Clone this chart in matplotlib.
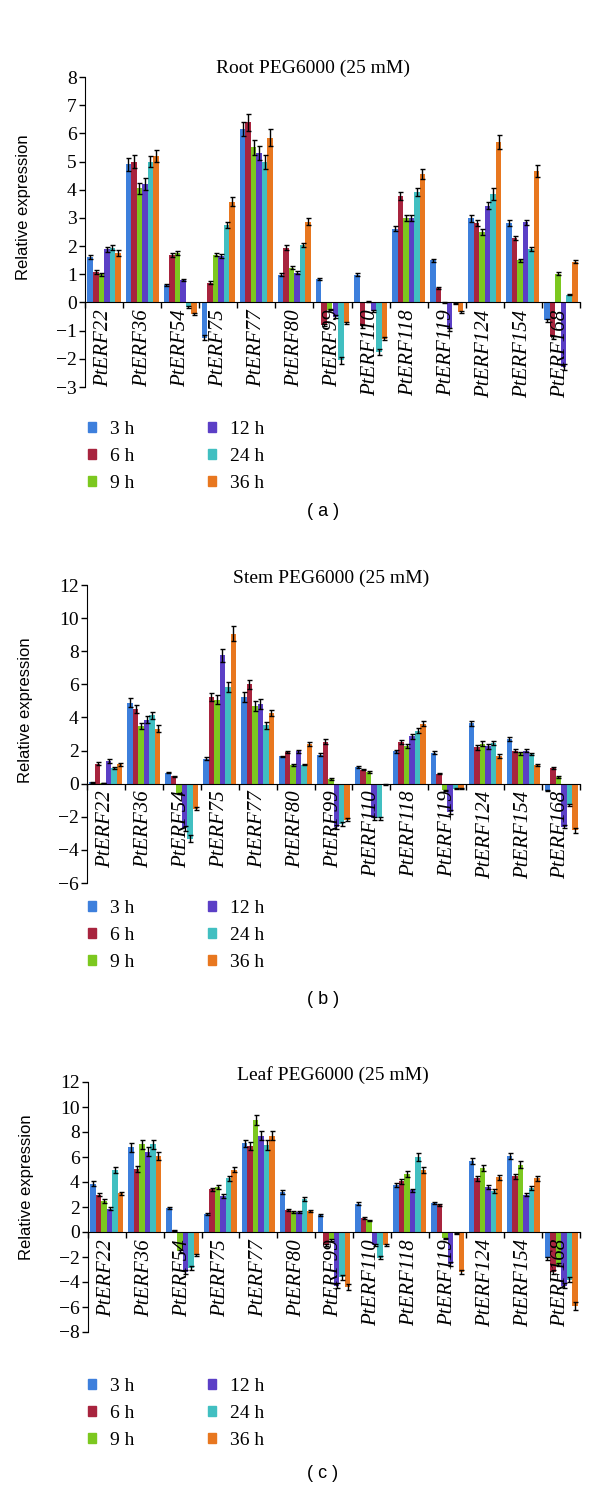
import numpy as np
import matplotlib.pyplot as plt
from matplotlib.patches import Patch

genes = ["PtERF22", "PtERF36", "PtERF54", "PtERF75", "PtERF77", "PtERF80", "PtERF99",
         "PtERF110", "PtERF118", "PtERF119", "PtERF124", "PtERF154", "PtERF168"]
times = ["3 h", "6 h", "9 h", "12 h", "24 h", "36 h"]
colors = ["#3d7fdc", "#a8243e", "#7cc81f", "#5b3fc6", "#41bfc1", "#e8771f"]

# rows = genes, columns = time points
root_vals = np.array([
    [1.62, 1.08, 1.00, 1.88, 1.95, 1.75],
    [4.90, 5.00, 4.05, 4.20, 5.00, 5.20],
    [0.62, 1.68, 1.75, 0.80, -0.15, -0.40],
    [-1.25, 0.70, 1.70, 1.65, 2.75, 3.58],
    [6.15, 6.40, 5.50, 5.30, 5.00, 5.85],
    [0.99, 1.95, 1.24, 1.05, 2.03, 2.86],
    [0.82, -0.80, -0.25, -0.50, -2.05, -0.72],
    [0.99, -0.85, 0.02, -0.30, -1.75, -1.28],
    [2.62, 3.78, 3.00, 3.00, 3.92, 4.56],
    [1.50, 0.52, 0.01, -0.95, -0.03, -0.33],
    [2.98, 2.83, 2.50, 3.43, 3.85, 5.70],
    [2.81, 2.29, 1.49, 2.84, 1.90, 4.66],
    [-0.64, -1.23, 1.02, -2.30, 0.28, 1.45],
])
root_err = np.array([
    [0.08, 0.06, 0.05, 0.10, 0.10, 0.10],
    [0.22, 0.22, 0.20, 0.20, 0.20, 0.22],
    [0.03, 0.06, 0.07, 0.05, 0.03, 0.03],
    [0.08, 0.05, 0.06, 0.06, 0.12, 0.15],
    [0.25, 0.30, 0.25, 0.25, 0.25, 0.30],
    [0.05, 0.08, 0.05, 0.05, 0.07, 0.12],
    [0.04, 0.04, 0.03, 0.05, 0.12, 0.04],
    [0.05, 0.05, 0.02, 0.03, 0.10, 0.05],
    [0.10, 0.15, 0.12, 0.12, 0.15, 0.18],
    [0.05, 0.03, 0.02, 0.05, 0.02, 0.04],
    [0.12, 0.10, 0.10, 0.12, 0.20, 0.25],
    [0.10, 0.08, 0.06, 0.10, 0.08, 0.20],
    [0.04, 0.05, 0.05, 0.10, 0.03, 0.06],
])

stem_vals = np.array([
    [0.08, 1.20, 0.05, 1.37, 0.95, 1.17],
    [4.90, 4.50, 3.49, 3.87, 4.13, 3.33],
    [0.67, 0.44, -0.60, -2.70, -3.33, -1.50],
    [1.51, 5.24, 5.08, 7.76, 5.85, 9.07],
    [5.24, 5.99, 4.70, 4.84, 3.53, 4.27],
    [1.65, 1.92, 1.11, 1.96, 1.15, 2.38],
    [1.75, 2.52, 0.28, -2.62, -2.42, -2.18],
    [1.00, 0.85, 0.69, -2.10, -2.10, -0.05],
    [1.96, 2.52, 2.26, 2.86, 3.19, 3.63],
    [1.88, 0.60, -0.40, -1.71, -0.30, -0.30],
    [3.66, 2.19, 2.41, 2.25, 2.45, 1.68],
    [2.70, 2.00, 1.83, 2.00, 1.79, 1.11],
    [-0.42, 0.95, 0.42, -2.60, -1.30, -2.80],
])
stem_err = np.array([
    [0.03, 0.10, 0.02, 0.10, 0.05, 0.10],
    [0.25, 0.25, 0.20, 0.20, 0.20, 0.20],
    [0.05, 0.04, 0.05, 0.15, 0.20, 0.08],
    [0.10, 0.25, 0.25, 0.40, 0.30, 0.45],
    [0.30, 0.30, 0.30, 0.30, 0.20, 0.20],
    [0.05, 0.08, 0.05, 0.08, 0.05, 0.12],
    [0.10, 0.15, 0.05, 0.10, 0.12, 0.10],
    [0.05, 0.05, 0.05, 0.10, 0.10, 0.03],
    [0.08, 0.12, 0.12, 0.15, 0.15, 0.15],
    [0.08, 0.04, 0.04, 0.10, 0.05, 0.05],
    [0.15, 0.15, 0.15, 0.15, 0.12, 0.10],
    [0.10, 0.08, 0.08, 0.10, 0.08, 0.05],
    [0.05, 0.05, 0.05, 0.10, 0.05, 0.15],
])

leaf_vals = np.array([
    [3.87, 3.00, 2.47, 1.88, 4.97, 3.09],
    [6.77, 5.02, 7.03, 6.44, 7.03, 6.09],
    [1.93, 0.13, -1.55, -3.17, -2.90, -1.83],
    [1.48, 3.41, 3.62, 2.87, 4.32, 4.97],
    [7.09, 6.90, 8.99, 7.70, 6.98, 7.70],
    [3.19, 1.74, 1.61, 1.58, 2.66, 1.72],
    [1.40, -1.00, -0.60, -4.30, -3.60, -4.40],
    [2.28, 1.13, 0.94, -1.00, -2.04, -1.02],
    [3.76, 4.08, 4.67, 3.33, 6.01, 4.94],
    [2.34, 2.20, -0.50, -2.58, -0.10, -3.17],
    [5.70, 4.30, 5.10, 3.61, 3.29, 4.39],
    [6.10, 4.45, 5.40, 3.00, 3.50, 4.30],
    [-2.10, -3.20, -2.60, -4.30, -3.80, -5.90],
])
leaf_err = np.array([
    [0.20, 0.15, 0.15, 0.12, 0.25, 0.15],
    [0.35, 0.25, 0.35, 0.35, 0.35, 0.30],
    [0.05, 0.03, 0.10, 0.15, 0.15, 0.10],
    [0.08, 0.15, 0.15, 0.15, 0.20, 0.20],
    [0.30, 0.30, 0.40, 0.35, 0.40, 0.35],
    [0.15, 0.08, 0.10, 0.08, 0.15, 0.08],
    [0.08, 0.08, 0.08, 0.20, 0.20, 0.25],
    [0.10, 0.05, 0.05, 0.08, 0.10, 0.06],
    [0.15, 0.20, 0.25, 0.15, 0.30, 0.25],
    [0.10, 0.08, 0.05, 0.15, 0.05, 0.15],
    [0.25, 0.20, 0.25, 0.15, 0.15, 0.20],
    [0.25, 0.20, 0.25, 0.15, 0.15, 0.20],
    [0.10, 0.15, 0.15, 0.20, 0.20, 0.30],
])

W, H = 600, 1492
fig = plt.figure(figsize=(W / 100, H / 100), dpi=100)
serif = "Liberation Serif"
sans = "Liberation Sans"


def box(left, top, right, bottom):
    return [left / W, 1 - bottom / H, (right - left) / W, (bottom - top) / H]


def panel(rect, vals, errs, ylo, yhi, step, title, title_x, title_y, leg_y, tag, tag_y):
    ax = fig.add_axes(rect)
    x = np.arange(len(genes))
    w = 0.145
    for i in range(len(times)):
        ax.bar(x + (i - 2.5) * w, vals[:, i], w, yerr=errs[:, i], color=colors[i],
               error_kw=dict(ecolor="black", elinewidth=1, capsize=1.8, capthick=1))
    ax.set_xlim(-0.5, len(genes) - 0.5)
    ax.set_ylim(ylo, yhi)
    ax.set_yticks(np.arange(ylo, yhi + 0.1, step))
    ax.spines["top"].set_visible(False)
    ax.spines["right"].set_visible(False)
    ax.spines["bottom"].set_position(("data", 0))
    ax.set_xticks(np.arange(-0.5, len(genes), 1))
    ax.set_xticklabels([])
    ax.set_xticks(x, minor=True)
    ax.set_xticklabels(genes, minor=True, rotation=90, fontsize=15,
                       family=serif, style="italic")
    ax.tick_params(axis="x", which="major", direction="out", length=4, width=1)
    ax.tick_params(axis="x", which="minor", length=0, pad=5)
    ax.tick_params(axis="y", direction="out", length=4, width=1, pad=2)
    for t in ax.get_yticklabels():
        t.set_family(serif)
        t.set_fontsize(14)
    ax.set_ylabel("Relative expression", fontsize=12, family=sans)
    ax.yaxis.set_label_coords(-0.11, 0.58)
    fig.text(title_x / W, 1 - title_y / H, title, fontsize=14, family=serif,
             ha="center", va="center")
    handles = [Patch(color=c) for c in colors]
    fig.legend(handles, times, ncol=2, loc="upper left",
               bbox_to_anchor=(88 / W, 1 - (leg_y - 7) / H), frameon=False,
               prop=dict(family=serif, size=14), borderpad=0, borderaxespad=0,
               handlelength=0.42, handleheight=0.38, handletextpad=0.7,
               labelspacing=0.52, columnspacing=3.8)
    fig.text(323 / W, 1 - tag_y / H, tag, fontsize=13, family=sans,
             ha="center", va="center")
    return ax


panel(box(85, 77, 580, 387), root_vals, root_err, -3, 8, 1,
      "Root PEG6000 (25 mM)", 313, 68, 428, "( a )", 512)
panel(box(87, 585, 580, 883), stem_vals, stem_err, -6, 12, 2,
      "Stem PEG6000 (25 mM)", 331, 578, 907, "( b )", 1000)
panel(box(88, 1082, 580, 1332), leaf_vals, leaf_err, -8, 12, 2,
      "Leaf PEG6000 (25 mM)", 333, 1075, 1385, "( c )", 1473)

plt.savefig("out.png", dpi=100)
